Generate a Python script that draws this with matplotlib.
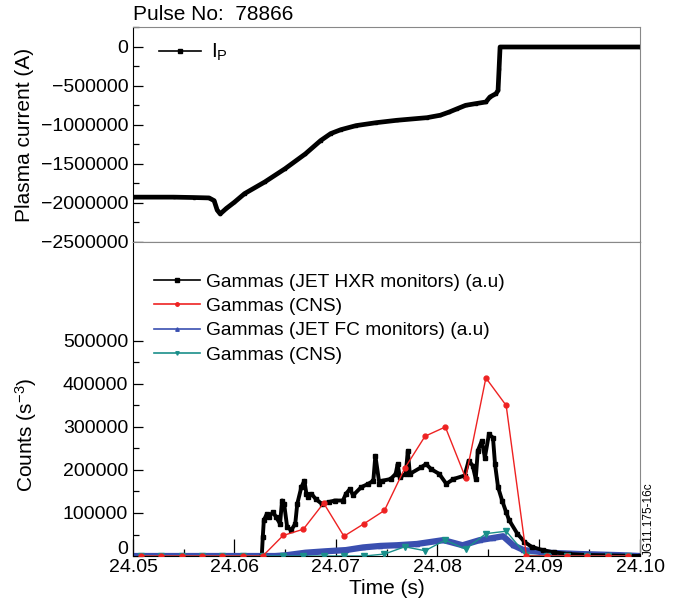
import matplotlib
matplotlib.use("Agg")
import matplotlib.pyplot as plt
from matplotlib.lines import Line2D
from matplotlib.ticker import MultipleLocator, FixedLocator, FuncFormatter
import matplotlib.transforms as mtransforms

plt.rcParams['font.family'] = ['Liberation Sans', 'DejaVu Sans']
plt.rcParams['mathtext.fontset'] = 'custom'
plt.rcParams['mathtext.rm'] = 'Liberation Sans'
plt.rcParams['mathtext.it'] = 'Liberation Sans'

FS_TICK = 14
FS_LABEL = 15
FS_LEG = 13.8

# ---- plasma current (pulse 78866) ----
ip_t = [24.0500, 24.0540, 24.0560, 24.0575, 24.0580, 24.0583, 24.0586, 24.0592,
        24.0600, 24.0610, 24.0630, 24.0650, 24.0670, 24.0685, 24.0695, 24.0705,
        24.0720, 24.0740, 24.0760, 24.0790, 24.0803, 24.0812, 24.0820, 24.0828,
        24.0838, 24.0848, 24.0852, 24.0858, 24.0860, 24.0861, 24.0862, 24.1000]
ip_a = [-1.925e6, -1.925e6, -1.93e6, -1.935e6, -1.97e6, -2.09e6, -2.14e6, -2.07e6,
        -1.99e6, -1.88e6, -1.73e6, -1.56e6, -1.37e6, -1.20e6, -1.11e6, -1.06e6,
        -1.008e6, -0.97e6, -0.94e6, -0.906e6, -0.875e6, -0.833e6, -0.79e6, -0.748e6,
        -0.726e6, -0.705e6, -0.641e6, -0.598e6, -0.556e6, -0.28e6, 0.0, 0.0]

# ---- gamma counts ----
hxr_t = [24.0627, 24.0628, 24.0629, 24.0632, 24.0634, 24.0638,
         24.0641, 24.0645, 24.0647, 24.0649, 24.0652, 24.0656, 24.0660, 24.0662,
         24.0666, 24.0669, 24.0671, 24.0673, 24.0676, 24.0680, 24.0686, 24.0693,
         24.0699, 24.0707, 24.0710, 24.0714, 24.0717, 24.0725, 24.0732, 24.0737,
         24.0739, 24.0743, 24.0746, 24.0754, 24.0759, 24.0761, 24.0763, 24.0769,
         24.0771, 24.0773, 24.0784, 24.0789, 24.0794, 24.0802, 24.0809, 24.0816,
         24.0827, 24.0831, 24.0835, 24.0838, 24.0840, 24.0844, 24.0847, 24.0851,
         24.0855, 24.0857, 24.0860, 24.0864, 24.0868, 24.0871, 24.0879, 24.0886,
         24.0893, 24.0904, 24.0915, 24.0930, 24.0949, 24.0967, 24.1000]
hxr_c = [0, 44600, 83000, 98000, 91000, 102000,
         91000, 75000, 129000, 121500, 67700, 60000, 75000, 121500,
         160000, 175000, 144600, 137000, 144600, 133000, 121500, 125400,
         129000, 129000, 144600, 156000, 141000, 160000, 167700, 175000,
         233000, 167700, 175000, 179000, 190800, 213800, 183000, 190800,
         244600, 190800, 206000, 213800, 202000, 190800, 167700, 179000,
         187000, 221500, 210000, 179000, 244600, 267700, 229000, 283000,
         275000, 213800, 160000, 129000, 102000, 83000, 52000, 33000,
         21500, 13800, 8500, 4600, 2300, 1500, 0]

cns_t = [24.0508, 24.0528, 24.0548, 24.0568, 24.0588, 24.0608, 24.0628, 24.0648,
         24.0668, 24.0688, 24.0708, 24.0728, 24.0748, 24.0768, 24.0788, 24.0808,
         24.0828, 24.0848, 24.0868, 24.0888, 24.0908, 24.0928, 24.0948, 24.0968,
         24.0988]
cns_c = [0, 0, 0, 0, 0, 0, 0, 47700,
         62300, 123000, 46000, 75400, 106000, 204000, 278500, 300000,
         181500, 414000, 350000, 0, 0, 0, 0, 0,
         0]

fc_t = [24.0500, 24.0640, 24.0650, 24.0670, 24.0690, 24.0710, 24.0727, 24.0744,
        24.0760, 24.0780, 24.0806, 24.0825, 24.0842, 24.0855, 24.0865, 24.0875,
        24.0885, 24.0908, 24.0941, 24.0980, 24.1000]
fc_c = [0, 0, 1500, 7700, 11000, 13800, 20000, 23500,
        25000, 28000, 37000, 25000, 37000, 42000, 46000, 25000,
        14000, 7700, 4600, 2000, 0]

cns2_t = cns_t
cns2_c = [0, 0, 0, 0, 0, 0, 0, 0,
          0, 0, 0, 0, 4600, 21500, 12300, 37000,
          16000, 52000, 57700, 2000, 0, 0, 0, 0,
          0]

fig = plt.figure(figsize=(6.8, 6.1), dpi=100)
ax1 = fig.add_axes([0.1956, 0.6033, 0.7456, 0.3524])
ax2 = fig.add_axes([0.1956, 0.0885, 0.7456, 0.5148], sharex=ax1)

for ax in (ax1, ax2):
    ax.tick_params(which='both', direction='in', labelsize=FS_TICK, right=False, top=False)
    ax.tick_params(which='major', length=7, width=0.9)
    ax.tick_params(which='minor', length=4, width=0.9)
    for side in ('top', 'right'):
        ax.spines[side].set_color('#888888')

# top panel: plasma current
ax1.plot(ip_t, ip_a, color='black', lw=3.4, marker='s', ms=2.0, solid_joinstyle='round')
ax1.set_xlim(24.05, 24.10)
ax1.set_ylim(-2500000, 256000)
ax1.yaxis.set_major_locator(FixedLocator([-2500000, -2000000, -1500000, -1000000, -500000, 0]))
ax1.yaxis.set_minor_locator(MultipleLocator(250000))
ax1.yaxis.set_major_formatter(FuncFormatter(lambda v, p: f"{int(v)}".replace('-', '\u2212')))
ax1.tick_params(axis='x', which='both', bottom=False, labelbottom=False)
ax1.set_ylabel('Plasma current (A)', fontsize=FS_LABEL)
ax1.yaxis.set_label_coords(-0.195, 0.5)
ax1.text(0.0, 1.012, 'Pulse No:  78866', transform=ax1.transAxes, fontsize=FS_LABEL,
         ha='left', va='bottom')
ip_handle = Line2D([], [], color='black', lw=1.2, marker='s', ms=3)
ax1.legend([ip_handle], ['I$_\\mathrm{P}$'], loc='upper left', frameon=False,
           fontsize=FS_LABEL, handlelength=2.0, handletextpad=0.5,
           bbox_to_anchor=(0.035, 0.97), borderaxespad=0)

# bottom panel: gamma counts
ax2.plot(fc_t, fc_c, color='#3a4fb0', lw=4.5, marker='^', ms=3, zorder=2,
         solid_joinstyle='round')
ax2.plot(hxr_t, hxr_c, color='black', lw=2.8, marker='s', ms=2.8, zorder=3,
         solid_joinstyle='round')
ax2.plot(cns2_t, cns2_c, color='#1a8f8a', lw=1.0, marker='v', ms=4, zorder=4)
ax2.plot(cns_t, cns_c, color='#ee2222', lw=1.0, marker='o', ms=3.5, zorder=5)

ax2.set_ylim(0, 730000)
ax2.yaxis.set_major_locator(FixedLocator([0, 100000, 200000, 300000, 400000, 500000]))
ax2.yaxis.set_minor_locator(FixedLocator([50000, 150000, 250000, 350000, 450000]))
ax2.yaxis.set_major_formatter(FuncFormatter(lambda v, p: f"{int(v)}"))
ax2.xaxis.set_major_locator(MultipleLocator(0.01))
ax2.xaxis.set_minor_locator(MultipleLocator(0.005))
ax2.xaxis.set_major_formatter(FuncFormatter(lambda v, p: f"{v:.2f}"))
ax2.tick_params(axis='x', which='major', length=12, pad=2)
ax2.tick_params(axis='x', which='minor', length=5)
ax2.set_xlabel('Time (s)', fontsize=FS_LABEL, labelpad=2)
ax2.set_ylabel('Counts (s$^{-3}$)', fontsize=FS_LABEL)
ax2.yaxis.set_label_coords(-0.185, 0.385)

fig.canvas.draw()
# lift the zero label clear of the time axis
shift = mtransforms.ScaledTranslation(0, 6 / 72, fig.dpi_scale_trans)
for lab in ax2.get_yticklabels():
    if lab.get_text() == '0':
        lab.set_transform(lab.get_transform() + shift)

h_hxr = Line2D([], [], color='black', lw=1.2, marker='s', ms=2.5)
h_cns = Line2D([], [], color='#ee2222', lw=1.2, marker='o', ms=2.5)
h_fc = Line2D([], [], color='#3a4fb0', lw=1.2, marker='^', ms=2.5)
h_cns2 = Line2D([], [], color='#1a8f8a', lw=1.2, marker='v', ms=2.5)
ax2.legend([h_hxr, h_cns, h_fc, h_cns2],
           ['Gammas (JET HXR monitors) (a.u)', 'Gammas (CNS)',
            'Gammas (JET FC monitors) (a.u)', 'Gammas (CNS)'],
           loc='upper left', bbox_to_anchor=(0.027, 0.925), frameon=False,
           fontsize=FS_LEG, handlelength=2.4, handletextpad=0.3, labelspacing=0.36,
           borderaxespad=0)

fig.text(0.954, 0.088, 'JG11.175-16c', rotation=90, fontsize=8.5, ha='center', va='bottom')

fig.savefig('out.png', dpi=100)
